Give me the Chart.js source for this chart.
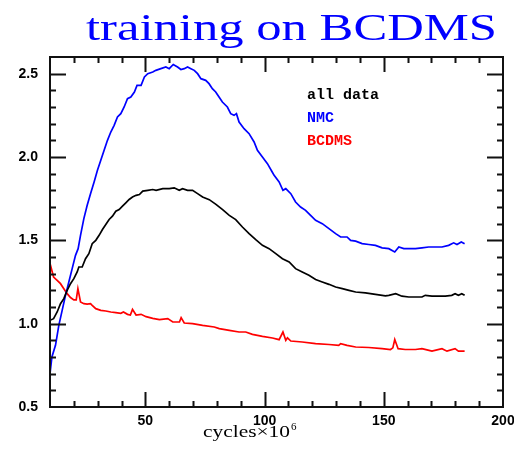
<!DOCTYPE html>
<html>
<head>
<meta charset="utf-8">
<title>training on BCDMS</title>
<script src="https://cdn.jsdelivr.net/npm/chart.js@4.4.1/dist/chart.umd.min.js"></script>
<style>
  body { margin: 0; background: #fff; }
  #wrap { width: 514px; height: 451px; }
</style>
</head>
<body>
<div id="wrap"><canvas id="myChart" width="514" height="451"></canvas></div>
<script>
// valeurs (cycles en 10^6)
var allX = [10, 11.5, 13.0, 14.4, 15.8, 17.2, 18.6, 20.0, 21.4, 22.1, 23.5, 24.9, 26.3, 27.7, 29.2,
  30.6, 32.0, 33.4, 34.8, 36.2, 37.6, 39.0, 40.4, 41.8, 43.2, 44.6, 46.1, 47.5, 48.9, 51.0,
  53.1, 54.5, 57.3, 60.0, 62.1, 64.2, 65.6, 67.7, 69.8, 71.9, 74.0, 76.8, 79.6, 82.4, 85.2,
  87.9, 90.7, 93.5, 96.3, 99.1, 101.9, 104.7, 107.5, 110.3, 113.0, 115.8, 118.6, 121.4, 124.2,
  127.0, 129.8, 132.6, 135.4, 138.2, 142.3, 146.5, 150.7, 152.1, 155.0, 157.6, 160.5, 163.3,
  166.0, 167.4, 170.2, 173.0, 175.8, 178.5, 179.9, 181.3, 182.7, 183.9];
var allY = [1.02, 1.03, 1.07, 1.12, 1.15, 1.20, 1.24, 1.27, 1.31, 1.34, 1.34, 1.39, 1.42, 1.48, 1.50,
  1.53, 1.565, 1.595, 1.625, 1.645, 1.675, 1.685, 1.705, 1.725, 1.745, 1.76, 1.77, 1.775, 1.795, 1.80,
  1.805, 1.80, 1.81, 1.81, 1.815, 1.80, 1.81, 1.80, 1.80, 1.78, 1.76, 1.744, 1.716, 1.684, 1.65,
  1.624, 1.58, 1.54, 1.504, 1.47, 1.45, 1.42, 1.39, 1.37, 1.33, 1.31, 1.29, 1.265, 1.25,
  1.236, 1.22, 1.21, 1.20, 1.19, 1.185, 1.176, 1.167, 1.17, 1.18, 1.165, 1.16, 1.16,
  1.16, 1.17, 1.165, 1.165, 1.165, 1.17, 1.18, 1.17, 1.18, 1.17];

var nmcX = [10, 10.8, 12.3, 13.7, 15.1, 16.5, 17.9, 19.3, 20.7, 21.8, 22.8, 24.2, 25.6, 27.0, 28.5,
  29.9, 31.3, 32.7, 34.1, 35.5, 36.9, 38.3, 39.7, 41.1, 42.5, 43.9, 45.4, 46.5, 48.2, 49.6,
  51.0, 53.1, 54.4, 56.5, 58.6, 60.0, 61.7, 63.5, 64.9, 66.3, 67.7, 69.1, 70.5, 71.9, 73.3,
  75.3, 76.7, 78.1, 79.5, 80.9, 82.3, 84.4, 85.8, 87.2, 88.2, 89.3, 91.4, 93.5, 95.6, 97.0,
  99.1, 101.2, 103.2, 104.0, 106.1, 107.7, 108.9, 111.0, 113.0, 115.1, 117.2, 119.3, 121.4,
  124.2, 127.0, 129.8, 131.9, 134.6, 136.1, 138.2, 140.9, 143.7, 146.5, 149.3, 152.1, 154.6,
  156.3, 158.4, 160.5, 163.3, 166.0, 168.8, 171.6, 174.4, 177.2, 179.3, 180.7, 182.5, 183.9];
var nmcY = [0.70, 0.80, 0.87, 0.99, 1.08, 1.17, 1.25, 1.33, 1.41, 1.45, 1.53, 1.63, 1.71, 1.78, 1.85,
  1.92, 1.98, 2.04, 2.10, 2.15, 2.19, 2.24, 2.26, 2.30, 2.35, 2.36, 2.39, 2.43, 2.43, 2.48,
  2.50, 2.51, 2.52, 2.53, 2.54, 2.53, 2.555, 2.54, 2.525, 2.53, 2.54, 2.53, 2.52, 2.50, 2.47,
  2.46, 2.44, 2.41, 2.39, 2.36, 2.33, 2.30, 2.26, 2.25, 2.26, 2.21, 2.17, 2.14, 2.09, 2.04,
  2.00, 1.96, 1.91, 1.89, 1.85, 1.80, 1.81, 1.78, 1.73, 1.70, 1.68, 1.65, 1.62,
  1.60, 1.57, 1.54, 1.52, 1.52, 1.50, 1.495, 1.48, 1.475, 1.47, 1.455, 1.45, 1.43,
  1.46, 1.45, 1.45, 1.45, 1.455, 1.46, 1.46, 1.46, 1.47, 1.485, 1.475, 1.49, 1.48];

var bcdmsX = [10, 10.4, 11.5, 13.0, 14.4, 15.8, 17.2, 18.6, 20.0, 21.0, 21.7, 22.8, 24.2, 25.6, 27.0,
  27.7, 29.2, 31.3, 33.4, 35.5, 37.6, 39.7, 40.8, 42.5, 43.7, 44.6, 46.1, 48.2, 50.3, 53.1,
  55.9, 59.4, 61.5, 64.3, 65.0, 66.3, 69.8, 74.0, 78.9, 81.0, 85.2, 89.3, 92.1, 94.9, 99.1,
  103.3, 106.1, 107.7, 108.9, 109.6, 111.0, 115.8, 121.4, 127.0, 131.1, 131.9, 134.6, 138.2,
  143.7, 149.3, 152.8, 153.8, 154.6, 156.0, 159.0, 163.3, 166.0, 170.2, 174.4, 176.5, 179.9,
  181.3, 183.9];
var bcdmsY = [1.32, 1.34, 1.28, 1.26, 1.24, 1.21, 1.18, 1.157, 1.143, 1.143, 1.21, 1.13, 1.12, 1.117, 1.12,
  1.11, 1.09, 1.08, 1.076, 1.07, 1.066, 1.062, 1.07, 1.056, 1.052, 1.086, 1.052, 1.056, 1.042, 1.032,
  1.024, 1.03, 1.01, 1.01, 1.036, 1.004, 1.00, 0.99, 0.98, 0.97, 0.96, 0.95, 0.95, 0.936, 0.924,
  0.914, 0.904, 0.95, 0.90, 0.915, 0.896, 0.89, 0.88, 0.875, 0.87, 0.88, 0.87, 0.86,
  0.857, 0.85, 0.845, 0.855, 0.905, 0.85, 0.845, 0.845, 0.85, 0.835, 0.85, 0.835, 0.85,
  0.835, 0.835];

var xTicks = [50, 100, 150, 200];
var yTicks = [0.5, 1.0, 1.5, 2.0, 2.5];

function pairs(xs, ys) {
    return xs.map(function (x, i) { return { x: x, y: ys[i] }; });
}

// cadre, petites graduations vers l'intérieur, titre, légende
var decor = {
    id: 'decor',
    afterDraw: function (chart) {
        var ctx = chart.ctx;
        var a = chart.chartArea;
        var sx = chart.scales.x, sy = chart.scales.y;
        ctx.save();
        ctx.strokeStyle = '#111';
        ctx.lineWidth = 2;
        ctx.strokeRect(a.left, a.top, a.right - a.left, a.bottom - a.top);

        ctx.beginPath();
        for (var i = 1; i < 20; i++) {
            var px = Math.round(sx.getPixelForValue(i * 10)) + 0.5;
            if (px <= a.left + 1 || px >= a.right - 1) continue;
            var len = (i % 5 === 0) ? 15 : 6;
            ctx.moveTo(px, a.bottom); ctx.lineTo(px, a.bottom - len);
            ctx.moveTo(px, a.top); ctx.lineTo(px, a.top + len);
        }
        for (var j = 6; j < 26; j++) {
            var py = Math.round(sy.getPixelForValue(j / 10)) + 0.5;
            var l2 = (j % 5 === 0) ? 16 : 6;
            ctx.moveTo(a.left, py); ctx.lineTo(a.left + l2, py);
            ctx.moveTo(a.right, py); ctx.lineTo(a.right - l2, py);
        }
        ctx.stroke();

        // titre
        var title = 'training on BCDMS';
        ctx.fillStyle = '#0000ff';
        ctx.font = '37px "Liberation Serif"';
        ctx.textBaseline = 'alphabetic';
        ctx.textAlign = 'left';
        var w = ctx.measureText(title).width;
        ctx.save();
        ctx.translate(86, 40);
        ctx.scale(411 / w, 1);
        ctx.fillText(title, 0, 0);
        ctx.restore();

        // titre de l'axe x
        var xt = 'cycles\u00d710';
        ctx.fillStyle = '#000';
        ctx.font = '17px "Liberation Serif"';
        var w2 = ctx.measureText(xt).width;
        ctx.save();
        ctx.translate(203, 437);
        ctx.scale(87 / w2, 1);
        ctx.fillText(xt, 0, 0);
        ctx.restore();
        ctx.font = '11px "Liberation Serif"';
        ctx.fillText('6', 291, 430);

        // légende
        ctx.font = 'bold 15px "Liberation Mono"';
        chart.data.datasets.forEach(function (ds, k) {
            ctx.fillStyle = ds.borderColor;
            ctx.fillText(ds.label, 307, 99 + k * 23);
        });
        ctx.restore();
    }
};

var tickFont = { family: 'Liberation Sans', weight: 'bold', size: 14 };

var ctx = document.getElementById('myChart').getContext('2d');
var myChart = new Chart(ctx, {
    type: 'line',
    data: {
        datasets: [
            { label: 'all data', data: pairs(allX, allY), borderColor: '#000000', borderWidth: 1.7, pointRadius: 0 },
            { label: 'NMC', data: pairs(nmcX, nmcY), borderColor: '#0000ff', borderWidth: 1.7, pointRadius: 0 },
            { label: 'BCDMS', data: pairs(bcdmsX, bcdmsY), borderColor: '#ff0000', borderWidth: 1.7, pointRadius: 0 }
        ]
    },
    options: {
        responsive: false,
        animation: false,
        devicePixelRatio: 1,
        layout: { padding: { top: 57, right: 11, bottom: 0, left: 0 } },
        plugins: {
            legend: { display: false },
            tooltip: { enabled: false }
        },
        scales: {
            x: {
                type: 'linear',
                min: 10,
                max: 200,
                grid: { display: false, drawTicks: false },
                border: { display: false },
                afterBuildTicks: function (s) {
                    s.ticks = xTicks.map(function (v) { return { value: v }; });
                },
                afterFit: function (s) {
                    s.height = 44;
                    s.paddingLeft = 0;
                    s.paddingRight = 0;
                },
                ticks: { padding: 6, font: tickFont, color: '#000', maxRotation: 0, autoSkip: false }
            },
            y: {
                type: 'linear',
                min: 0.5,
                max: 2.6,
                grid: { display: false, drawTicks: false },
                border: { display: false },
                afterBuildTicks: function (s) {
                    s.ticks = yTicks.map(function (v) { return { value: v }; });
                },
                afterFit: function (s) {
                    s.width = 50;
                    s.paddingTop = 0;
                    s.paddingBottom = 0;
                },
                ticks: {
                    padding: 12, font: tickFont, color: '#000', autoSkip: false,
                    callback: function (v) { return Number(v).toFixed(1); }
                }
            }
        }
    },
    plugins: [decor]
});
</script>
</body>
</html>
